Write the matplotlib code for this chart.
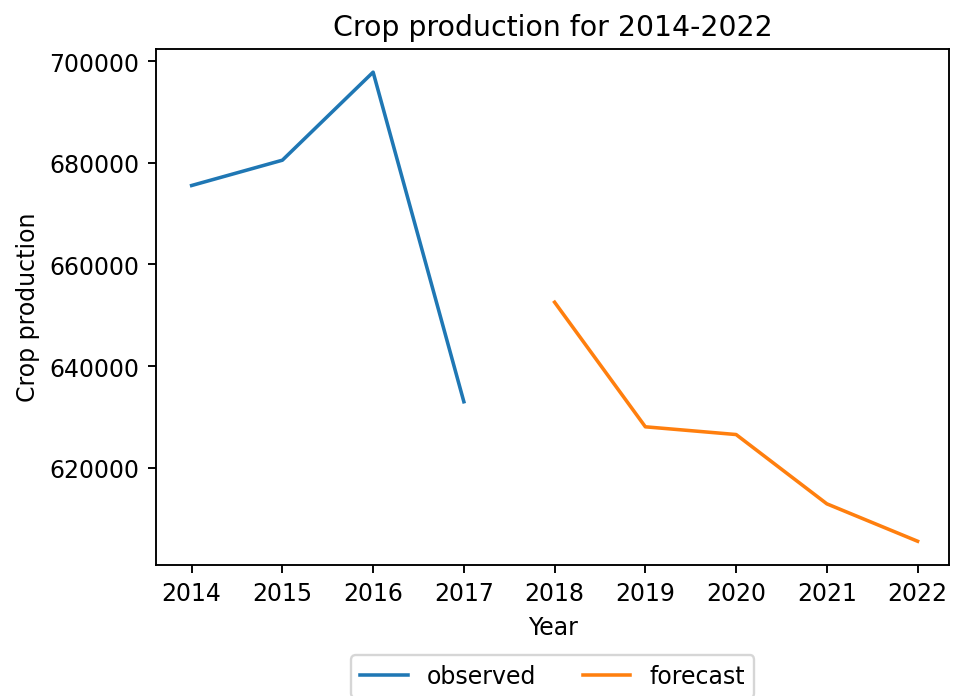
import matplotlib.pyplot as plt

years_observed = [2014, 2015, 2016, 2017]
observed = [675540, 680520, 697840, 633000]

years_forecast = [2018, 2019, 2020, 2021, 2022]
forecast = [652580, 628070, 626550, 612920, 605560]

DPI = 170
fig = plt.figure(figsize=(954 / DPI, 697 / DPI), dpi=DPI)
ax = fig.add_axes([0.1635, 0.1884, 0.9951 - 0.1635, 0.9287 - 0.1884])

ax.plot(years_observed, observed, label="observed")
ax.plot(years_forecast, forecast, label="forecast")

ax.set_title("Crop production for 2014-2022")
ax.set_xlabel("Year")
ax.set_ylabel("Crop production")
ax.set_xlim(2013.607, 2022.35)
ax.set_xticks(years_observed + years_forecast)
ax.legend(loc="upper center", bbox_to_anchor=(0.5, -0.152), ncol=2)

fig.savefig("out.png", dpi=DPI)
